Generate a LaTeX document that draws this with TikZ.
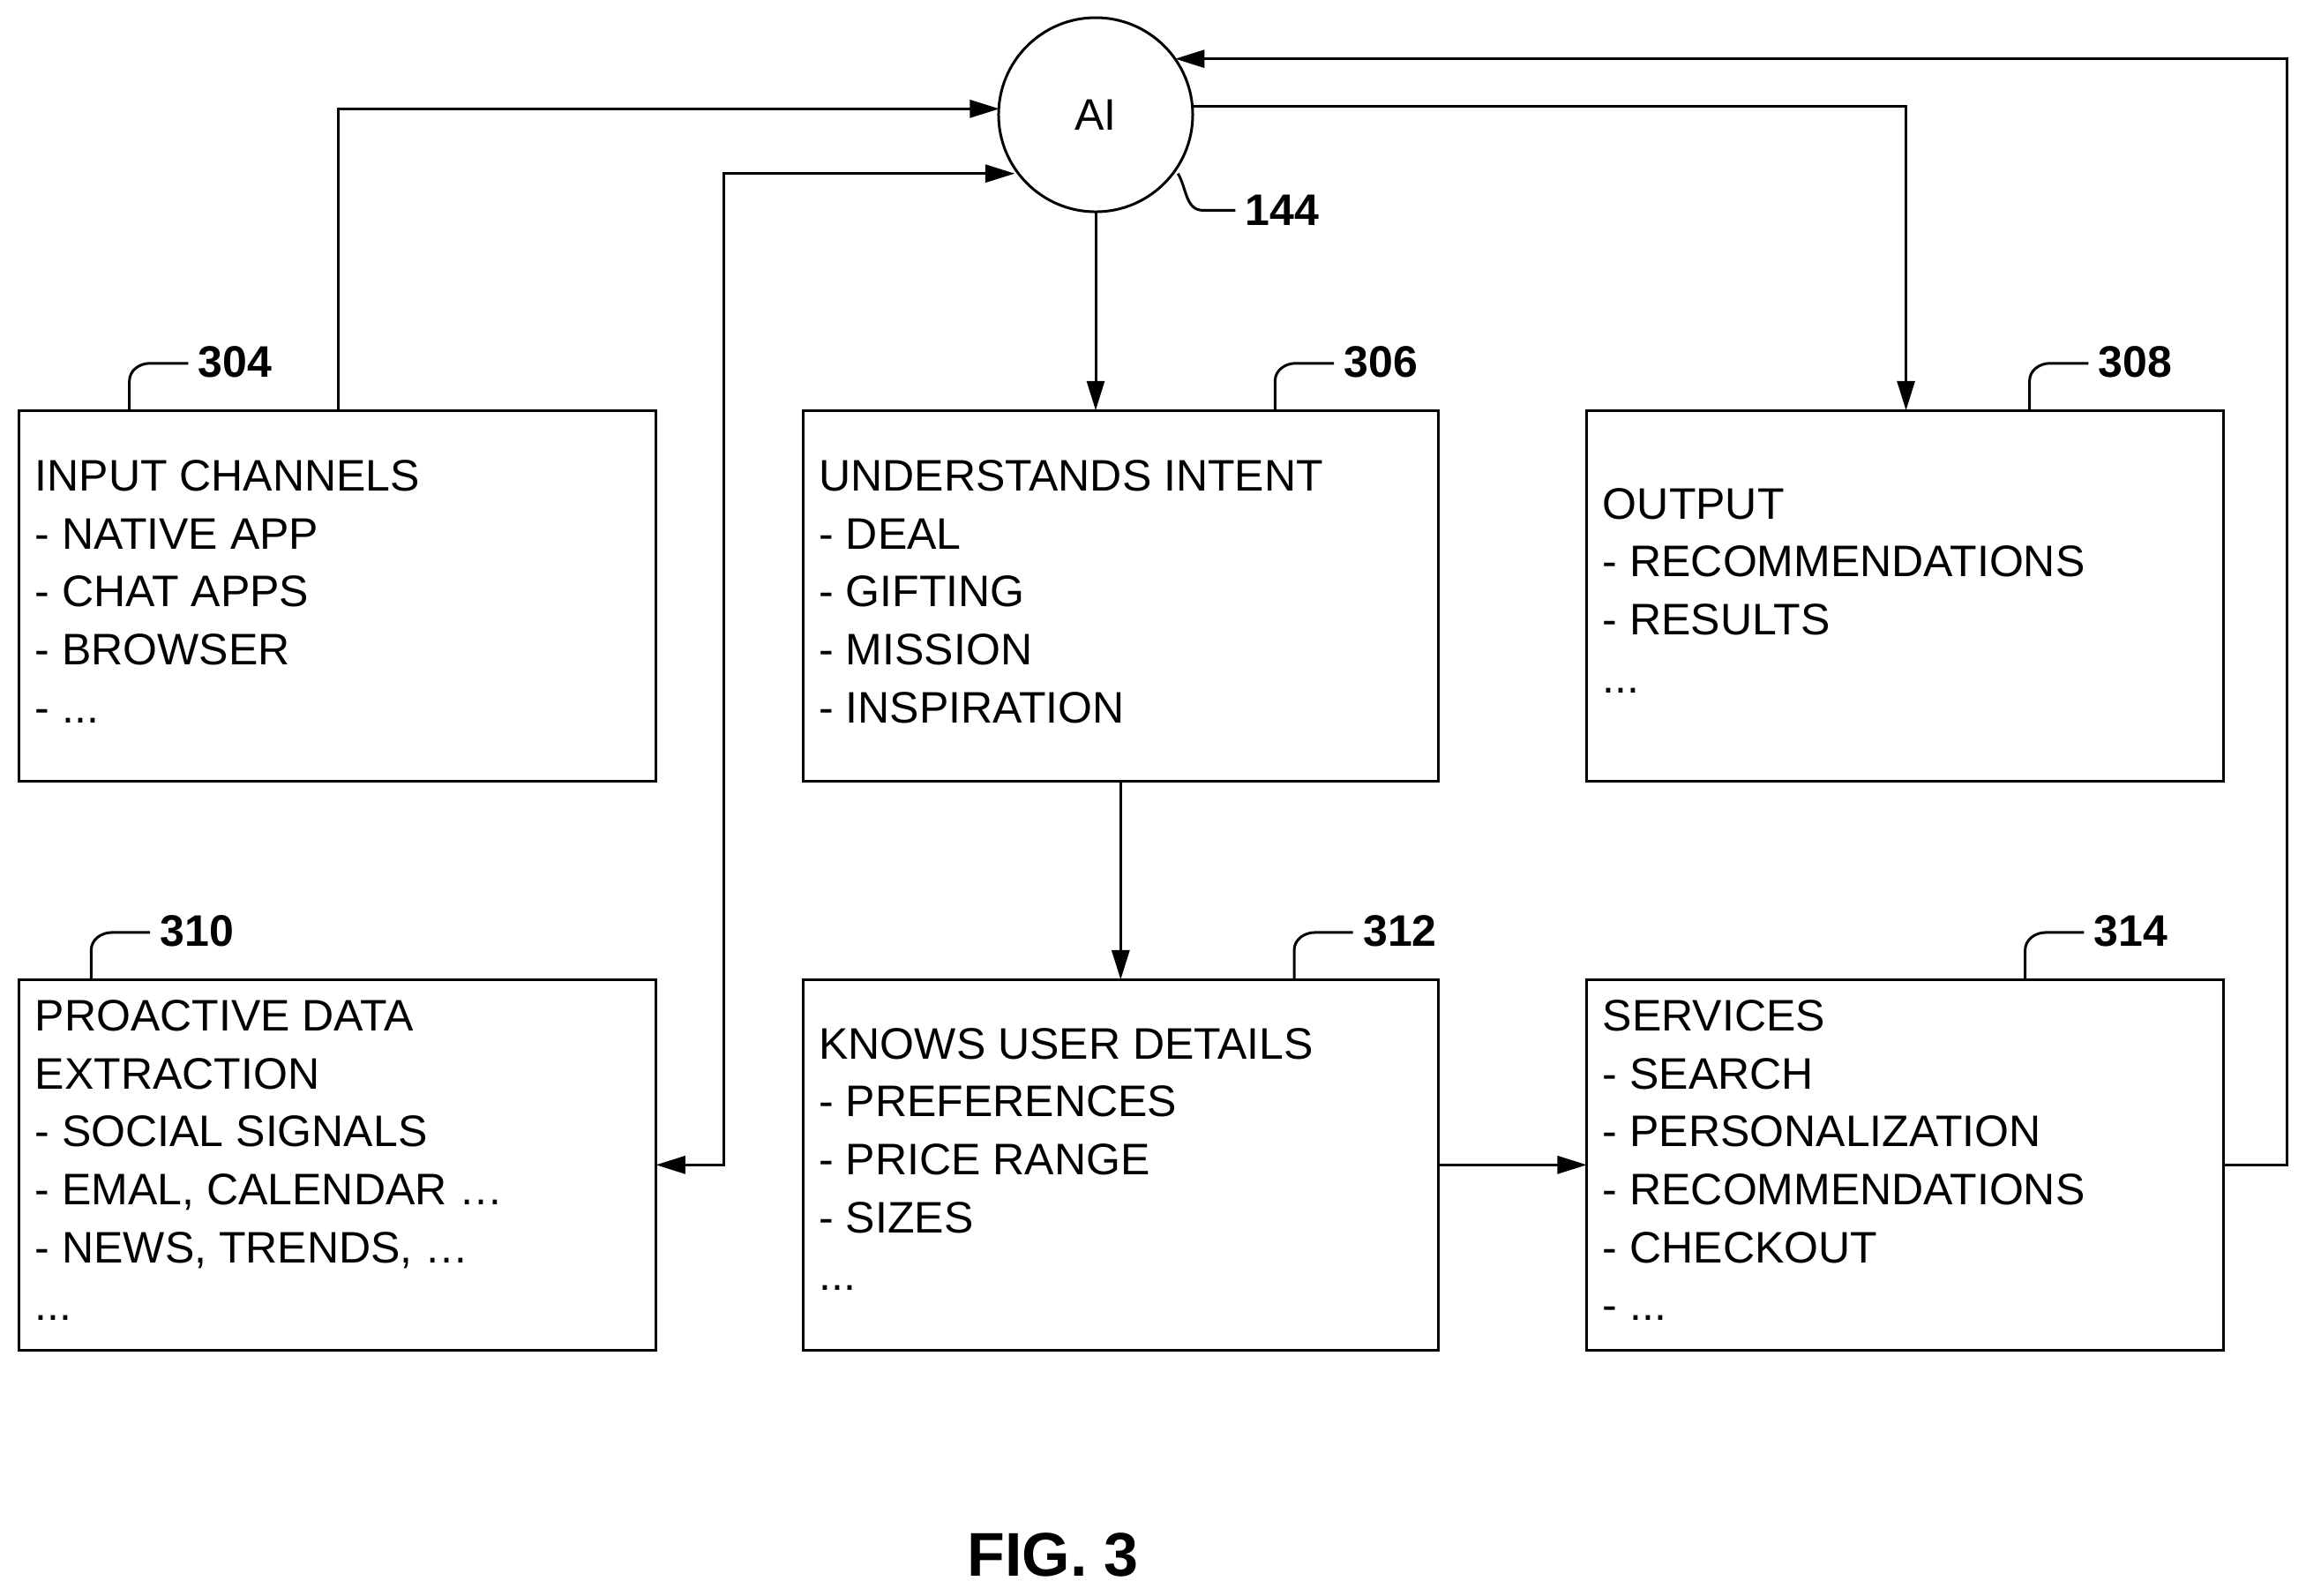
\documentclass[tikz,border=0pt]{standalone}
\usepackage{fontspec}
\setmainfont{Liberation Sans}
\usetikzlibrary{arrows.meta}
\begin{document}
\begin{tikzpicture}[x=0.5pt,y=-0.5pt,
  box/.style={draw,line width=0.9pt},
  txt/.style={anchor=north west,align=left,inner sep=0pt,font=\fontsize{15}{19.7}\selectfont},
  num/.style={font=\fontsize{15}{18}\selectfont\bfseries,anchor=west,inner sep=0pt},
  lead/.style={line width=0.9pt},
  arr/.style={line width=0.9pt,-{Triangle[length=10pt,width=6pt]}},
  line width=0.9pt]
\useasboundingbox (0,0) rectangle (1568,1085);
\node[circle,draw,line width=0.9pt,minimum size=66pt,inner sep=0pt,font=\fontsize{15}{18}\selectfont] (ai) at (745,78) {AI};
\draw[box] (13,279) rectangle (446,531) coordinate (b304);
\draw[box] (546,279) rectangle (978,531);
\draw[box] (1079,279) rectangle (1512,531);
\draw[box] (13,666) rectangle (446,918);
\draw[box] (546,666) rectangle (978,918);
\draw[box] (1079,666) rectangle (1512,918);
\node[txt] (t304) at (23,312) {INPUT CHANNELS\\- NATIVE APP\\- CHAT APPS\\- BROWSER\\- ...};
\node[txt] (t306) at (556,312) {UNDERSTANDS INTENT\\- DEAL\\- GIFTING\\- MISSION\\- INSPIRATION};
\node[txt] (t308) at (1089,331) {OUTPUT\\- RECOMMENDATIONS\\- RESULTS\\...};
\node[txt] (t310) at (23,679) {PROACTIVE DATA\\EXTRACTION\\- SOCIAL SIGNALS\\- EMAL, CALENDAR \dots\\- NEWS, TRENDS, \dots\\...};
\node[txt] (t312) at (556,698) {KNOWS USER DETAILS\\- PREFERENCES\\- PRICE RANGE\\- SIZES\\...};
\node[txt] (t314) at (1089,679) {SERVICES\\- SEARCH\\- PERSONALIZATION\\- RECOMMENDATIONS\\- CHECKOUT\\- ...};
% leaders
\foreach \x/\y/\n in {88/279/304,867/279/306,1380/279/308,62/666/310,880/666/312,1377/666/314}{
  \draw[lead] (\x,\y) -- (\x,\y-20) to[out=90,in=180] (\x+14,\y-32) -- (\x+40,\y-32);
  \node[num] at (\x+46,\y-33) {\n};
}
\draw[lead] (801,118) to[out=-60,in=180] (818,143) -- (840,143);
\node[num] at (846,143) {144};
% arrows
\coordinate (c1) at (230,279);
\draw[arr] (c1) -- (230,74) -- (679.5,74);
\draw[line width=0.9pt,{Triangle[length=10pt,width=6pt]}-{Triangle[length=10pt,width=6pt]}] (446,792) -- (492,792) -- (492,118) -- (690,118);
\draw[arr] (745,144) -- (745,279);
\draw[arr] (810,72) -- (1296,72) -- (1296,279);
\draw[arr] (762,531) -- (762,666);
\draw[arr] (978,792) -- (1079,792);
\draw[arr] (1512,792) -- (1555,792) -- (1555,40) -- (799,40);
\node[font=\fontsize{21}{24}\selectfont\bfseries] (fig) at (716,1057) {FIG. 3};
\end{tikzpicture}
\end{document}
